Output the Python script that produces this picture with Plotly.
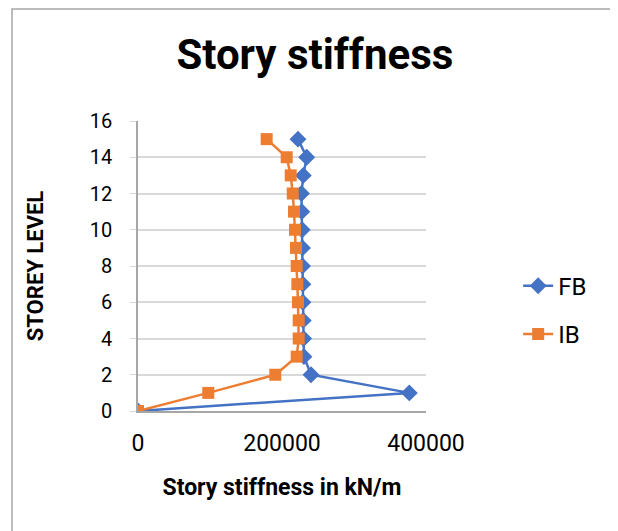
import plotly.graph_objects as go

levels = list(range(0, 16))
fb = [0, 376800, 240300, 230500, 230000, 229500, 229000, 229000, 228500, 228500,
      228000, 227500, 227000, 229600, 234300, 222200]
ib = [0, 97600, 190700, 220400, 223200, 223200, 222200, 221300, 220400, 219400,
      218100, 216700, 214900, 212100, 206500, 178700]
x_ticks = [0, 200000, 400000]
y_ticks = list(range(0, 17, 2))

fig = go.Figure()
fig.add_trace(go.Scatter(x=fb, y=levels, name="FB", mode="lines+markers", legendgroup="fb",
                         line=dict(color="#4472C4", width=2.5),
                         marker=dict(symbol="diamond", size=13, color="#4472C4")))
fig.add_trace(go.Scatter(x=ib, y=levels, name="IB", mode="lines+markers", legendgroup="ib",
                         line=dict(color="#ED7D31", width=2.5),
                         marker=dict(symbol="square", size=12, color="#ED7D31")))

font_fam = "Roboto, Arial, sans-serif"
fig.update_layout(
    width=610, height=523,
    margin=dict(l=130, r=192, t=113, b=120),
    paper_bgcolor="white", plot_bgcolor="white",
    font=dict(family=font_fam, size=20, color="black"),
    title=dict(text="<b>Story stiffness</b>", x=0.503, xanchor="center",
               y=0.912, yanchor="middle", font=dict(size=42, family=font_fam)),
    showlegend=True,
    legend=dict(x=1.32, xanchor="left", y=0.348, yanchor="middle",
                font=dict(size=24), tracegroupgap=14,
                bgcolor="rgba(0,0,0,0)"),
    xaxis=dict(range=[0, 400000], tickvals=x_ticks, ticktext=[str(v) for v in x_ticks],
               showgrid=False, zeroline=False, showline=True, linecolor="#a6a6a6",
               linewidth=1.5, ticks="", tickfont=dict(size=23), ticklabelstandoff=11,
               title=dict(text="<b>Story stiffness in kN/m</b>", font=dict(size=23), standoff=23)),
    yaxis=dict(range=[0, 16], tickvals=y_ticks, showgrid=True, gridcolor="#d9d9d9",
               gridwidth=1.5, zeroline=False, showline=True, linecolor="#a6a6a6",
               linewidth=1.5, ticks="outside", ticklen=6, tickcolor="#d9d9d9",
               tickfont=dict(size=20), ticklabelstandoff=14,
               title=dict(text="<b>STOREY LEVEL</b>", font=dict(size=22), standoff=40)),
)
fig.add_shape(type="rect", xref="paper", yref="paper",
              x0=-0.4375, x1=2.0, y0=-1.0, y1=1.386,
              line=dict(color="#a6a6a6", width=1.5), layer="below")
fig.write_html("out.html")
